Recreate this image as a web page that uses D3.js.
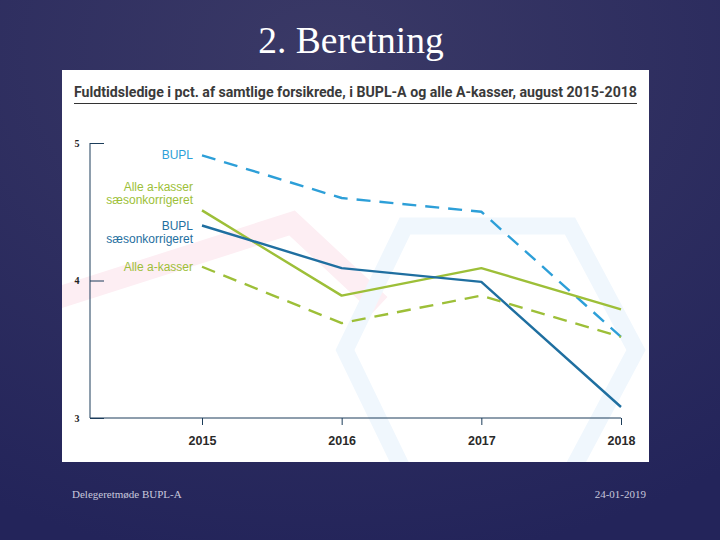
<!DOCTYPE html>
<html><head><meta charset="utf-8">
<script src="https://cdn.jsdelivr.net/npm/d3@7"></script>
<style>html,body{margin:0;padding:0;background:#2a2a5a;}svg{display:block;}</style>
</head><body>
<script>
const years = [2015, 2016, 2017, 2018];
const bupl = [4.91, 4.60, 4.50, 3.59];
const buplSeason = [4.40, 4.09, 3.99, 3.08];
const alleSeason = [4.51, 3.89, 4.09, 3.79];
const alle = [4.10, 3.69, 3.89, 3.59];
const yTicks = [3, 4, 5];
const seriesNames = ["BUPL", "Alle a-kasser sæsonkorrigeret", "BUPL sæsonkorrigeret", "Alle a-kasser"];
const slideTitle = "2. Beretning";
const chartTitle = "Fuldtidsledige i pct. af samtlige forsikrede, i BUPL-A og alle A-kasser, august 2015-2018";
const footerLeft = "Delegeretmøde BUPL-A";
const footerRight = "24-01-2019";

const W = 720, H = 540;
const svg = d3.select("body").append("svg").attr("width", W).attr("height", H);
const defs = svg.append("defs");
const bg = defs.append("radialGradient").attr("id","bg").attr("cx","45%").attr("cy","10%").attr("r","95%");
bg.append("stop").attr("offset","0%").attr("stop-color","#3a3966");
bg.append("stop").attr("offset","100%").attr("stop-color","#23245a");
svg.append("rect").attr("width",W).attr("height",H).attr("fill","url(#bg)");

svg.append("text").attr("x",351).attr("y",53).attr("text-anchor","middle")
  .attr("font-family","Liberation Serif, DejaVu Serif, serif").attr("font-size",37.5).attr("fill","#ffffff").text(slideTitle);

svg.append("text").attr("x",72).attr("y",498).attr("font-family","Liberation Serif, serif")
  .attr("font-size",11).attr("fill","#c8c8dc").text(footerLeft);
svg.append("text").attr("x",646).attr("y",498).attr("text-anchor","end").attr("font-family","Liberation Serif, serif")
  .attr("font-size",11).attr("fill","#c8c8dc").text(footerRight);

// white chart panel
svg.append("rect").attr("x",62).attr("y",70).attr("width",587).attr("height",392).attr("fill","#ffffff");

const g = svg.append("g");
const clip = defs.append("clipPath").attr("id","panel");
clip.append("rect").attr("x",62).attr("y",108).attr("width",587).attr("height",354);

// faint watermark decorations
const deco = g.append("g").attr("clip-path","url(#panel)");
deco.append("path").attr("d","M20,310 L292,223 L380,305")
  .attr("fill","none").attr("stroke","#fdeef3").attr("stroke-width",22);
deco.append("path").attr("d","M405,226 L570,226 L636,350 L570,474 L405,474 L345,350 Z")
  .attr("fill","none").attr("stroke","#f0f7fd").attr("stroke-width",17);

// title
g.append("text").attr("x",74).attr("y",97).attr("font-family","Roboto, Liberation Sans, sans-serif")
  .attr("font-size",15).attr("font-weight",700).attr("fill","#3a3a3a")
  .attr("textLength",563).attr("lengthAdjust","spacingAndGlyphs").text(chartTitle);
g.append("line").attr("x1",74).attr("x2",637).attr("y1",103.5).attr("y2",103.5).attr("stroke","#333").attr("stroke-width",1);

const x = d3.scaleLinear().domain([2015, 2018]).range([202, 621]);
const y = d3.scaleLinear().domain([3, 5]).range([418, 143]);

// y axis
const yAxis = g.append("g").attr("transform","translate(90,0)")
  .call(d3.axisRight(y).tickValues(yTicks).tickSize(14).tickFormat(""));
yAxis.select(".domain").attr("stroke","#1c3d5a").attr("d", `M0,${y(5)}V${y(3)}`);
yAxis.selectAll(".tick line").attr("stroke","#1c3d5a");
g.selectAll(".ylab").data(yTicks).join("text").attr("class","ylab")
  .attr("x",77).attr("y",d=>y(d)+3.5).attr("text-anchor","middle")
  .attr("font-family","Liberation Serif, serif").attr("font-size",10).attr("font-weight",700)
  .attr("fill","#222").text(d=>d);

// x axis
const xAxis = g.append("g").attr("transform",`translate(0,${y(3)})`)
  .call(d3.axisBottom(x).tickValues(years).tickSize(7).tickFormat(d3.format("d")));
xAxis.select(".domain").attr("stroke","#1c3d5a").attr("d",`M90,0H${x(2018)}`);
xAxis.selectAll(".tick line").attr("stroke","#1c3d5a");
xAxis.selectAll(".tick text").attr("y",18).attr("font-family","Liberation Sans, Arial, sans-serif")
  .attr("font-size",12.5).attr("font-weight",700).attr("fill","#2a2a2a");

const line = d3.line().x((d,i)=>x(years[i])).y(d=>y(d));
const series = [
  {v: bupl, c: "#2d9fd8", dash: "14,9"},
  {v: alleSeason, c: "#9dbf38", dash: null},
  {v: buplSeason, c: "#1f6fa0", dash: null},
  {v: alle, c: "#9dbf38", dash: "14,9"}
];
series.forEach(s => {
  g.append("path").datum(s.v).attr("d", line).attr("fill","none")
    .attr("stroke", s.c).attr("stroke-width", 2.4)
    .attr("stroke-dasharray", s.dash).attr("stroke-linejoin","round");
});

// series labels
const lab = [
  {lines:["BUPL"], c:"#2d9fd8", y0: y(bupl[0])},
  {lines:["Alle a-kasser","sæsonkorrigeret"], c:"#9dbf38", y0: y(alleSeason[0]) - 23},
  {lines:["BUPL","sæsonkorrigeret"], c:"#1f6fa0", y0: y(buplSeason[0])},
  {lines:["Alle a-kasser"], c:"#9dbf38", y0: y(alle[0])}
];
lab.forEach(l => {
  l.lines.forEach((t,i) => {
    g.append("text").attr("x",193).attr("y", l.y0 + 4 + i*13).attr("text-anchor","end")
      .attr("font-family","Liberation Sans, Arial, sans-serif").attr("font-size",12)
      .attr("fill", l.c).text(t);
  });
});
</script>
</body></html>
